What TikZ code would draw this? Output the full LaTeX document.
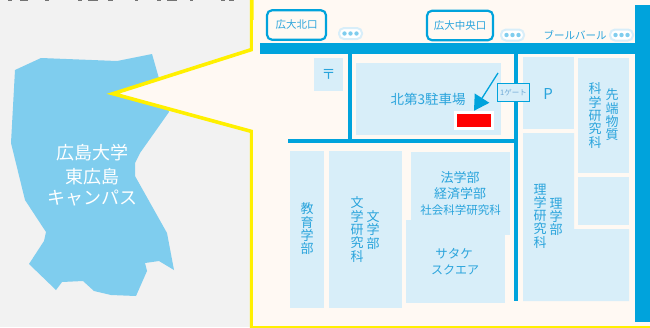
\documentclass[tikz,border=0pt]{standalone}
\usepackage{fontspec}
\setmainfont{Noto Sans CJK JP}
\usetikzlibrary{arrows.meta}
\definecolor{pagebg}{HTML}{F2F2F2}
\definecolor{panelbg}{HTML}{FFF9F3}
\definecolor{campus}{HTML}{7FCDEE}
\definecolor{road}{HTML}{00A3DC}
\definecolor{block}{HTML}{D8EEF9}
\definecolor{label}{HTML}{2AA4DC}
\definecolor{gatelabel}{HTML}{6FA9D6}
\definecolor{callout}{HTML}{FFF000}
\newcommand{\fs}[1]{\fontsize{#1}{#1}\selectfont}
\tikzset{
  x=1pt,y=-1pt,
  roadbar/.style={fill=road,draw=none},
  blockfill/.style={fill=block,draw=none},
  txt/.style={text=label,inner sep=0pt,anchor=center,font=\fs{#1}},
  txt/.default=13,
  vtext/.style={text=label,inner sep=0pt,anchor=center,align=center,font=\fontsize{13}{13.3}\selectfont},
  station/.style={draw=road,line width=2.2pt,rounded corners=5pt,fill=panelbg},
  stationlabel/.style={text=label,inner sep=0pt,font=\fs{10.5}},
  pill/.style={draw=block,line width=2pt,fill=white,rounded corners=5pt},
  pdot/.style={fill=campus,draw=none},
  scrap/.style={fill=black!55,draw=none},
}
\begin{document}
\begin{tikzpicture}
\useasboundingbox (0,0) rectangle (650,327);
\clip (0,0) rectangle (650,327);
\fill[pagebg] (0,0) rectangle (650,327);
% cut-off line of text at the top edge
\foreach \a/\b in {8/12,20/28,45/49,78/82,88/98,108/113,135/138,157/161,167/177,190/193,221/225,229/234}
  \fill[scrap] (\a,0) rectangle (\b,1.2);
% campus
\fill[campus] (15,70)--(41,58)--(117,61)--(152,54)--(158,75)--(169,112)--(140,153)--(135,163)--(135,176)--(167,233)--(174,270)--(159,261)--(145,263)--(147,271)--(136,296)--(111,295)--(94,291)--(83,281)--(62,282)--(56,290)--(29,264)--(44,241)--(46,232)--(25,200)--(11,143)--cycle;
\node[text=white,inner sep=0pt,font=\fs{18}] (n1) at (92,153) {広島大学};
\node[text=white,inner sep=0pt,font=\fs{18}] (n2) at (92,176.5) {東広島};
\node[text=white,inner sep=0pt,font=\fs{18}] (n3) at (92,198) {キャンパス};
% callout panel
\path[fill=panelbg,draw=callout,line width=3.6pt,miter limit=10] (251.7,-5)--(251.7,49.5)--(113,93.7)--(251.7,131.5)--(251.7,326.5)--(660,326.5)--(660,-5)--cycle;
\fill[panelbg] (253.4,20) rectangle (660,325.8);
% roads
\fill[roadbar] (260,43) rectangle (650,54);
\fill[roadbar] (635,5) rectangle (650,322);
\fill[roadbar] (348,54) rectangle (352,141);
\fill[roadbar] (514,54) rectangle (518,301);
\fill[roadbar] (288,139) rectangle (516,143);
% blocks
\fill[blockfill] (314,58) rectangle (343,91);
\fill[blockfill] (356,63) rectangle (501,135);
\fill[blockfill] (523,57) rectangle (574,129);
\fill[blockfill] (578,58) rectangle (629,173);
\fill[blockfill] (578,177) rectangle (629,225);
\fill[blockfill] (523,133)--(574,133)--(574,229)--(629,229)--(629,301)--(523,301)--cycle;
\fill[blockfill] (290,151) rectangle (324,308);
\fill[blockfill] (329,151) rectangle (402,308);
\fill[blockfill] (411,152) rectangle (510,235);
\fill[blockfill] (406,220) rectangle (505,303);
% stations
\node[station,minimum width=59pt,minimum height=29.5pt,inner sep=0pt] (kita) at (296.5,25) {};
\node[stationlabel] at (kita.center) {広大北口};
\node[station,minimum width=66pt,minimum height=29.5pt,inner sep=0pt] (chuo) at (460,25.5) {};
\node[stationlabel] at (chuo.center) {広大中央口};
% pills
\foreach \cx/\cy in {350.5/33.5,512.5/35,621.5/35}{
  \draw[pill] (\cx-11.5,\cy-5.5) rectangle (\cx+11.5,\cy+5.5);
  \foreach \d in {-6,0,6} \fill[pdot] (\cx+\d,\cy) circle (2.2);
}
\node[stationlabel] (blvd) at (575,35) {ブールバール};
% labels
\node[txt=14] (post) at (328.5,74) {〒};
\node[txt=13.5] (lot) at (428,99) {北第3駐車場};
\node[txt=15] (pk) at (548,94) {P};
\node[vtext] (edu) at (307,229) {教\\育\\学\\部};
\node[vtext] (litg) at (357,229.5) {文\\学\\研\\究\\科};
\node[vtext] (lit) at (373,230) {文\\学\\部};
\node[vtext] (scig) at (540,216) {理\\学\\研\\究\\科};
\node[vtext] (sci) at (556,217) {理\\学\\部};
\node[vtext] (adv) at (612,115) {先\\端\\物\\質};
\node[vtext] (advg) at (595,115.5) {科\\学\\研\\究\\科};
\node[txt=13] (law) at (460,178) {法学部};
\node[txt=13] (eco) at (460,194) {経済学部};
\node[txt=11.5] (soc) at (460.5,210) {社会科学研究科};
\node[txt=12.5] (sat1) at (454,254) {サタケ};
\node[txt=12] (sat2) at (455,270) {スクエア};
% gate
\node[draw=road,line width=1.3pt,fill=block,minimum width=32pt,minimum height=18pt,inner sep=0pt,text=gatelabel,font=\fs{7.5}] (gate) at (513.5,92.5) {1ゲート};
% destination
\node[fill=white,minimum width=40pt,minimum height=19pt,inner sep=0pt] (dest) at (474,120.5) {};
\node[fill=red,minimum width=34pt,minimum height=13pt,inner sep=0pt] (redbox) at (dest.center) {};
\coordinate (arrowstart) at (498,73);
\draw[road,line width=1.3pt,-{Triangle[length=15pt,width=17pt]}] (arrowstart) -- (dest.north);
\end{tikzpicture}
\end{document}
